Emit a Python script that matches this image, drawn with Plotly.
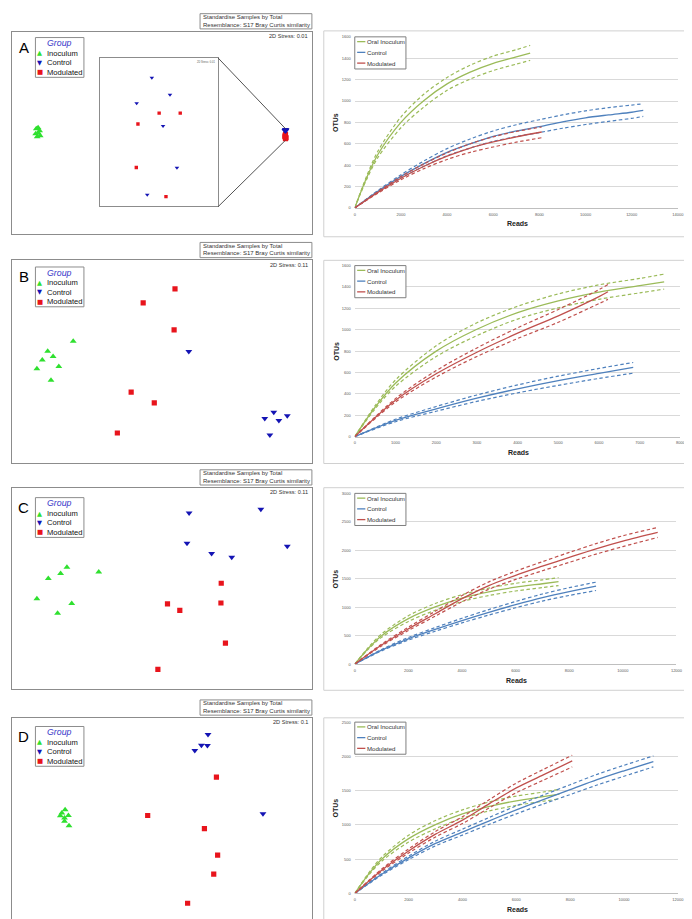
import plotly.graph_objects as go

W, H = 692, 919


def X(px):
    return px / W


def Y(py):
    return 1 - py / H


# ---------------------------------------------------------------- texts
panel_letters = ["A", "B", "C", "D"]
stress_labels = ["2D Stress: 0.01", "2D Stress: 0.11", "2D Stress: 0.11", "2D Stress: 0.1"]
inset_stress_label = "2D Stress: 0.01"
descriptor_lines = ["Standardise Samples by Total", "Resemblance: S17 Bray Curtis similarity"]
nmds_groups = ["Inoculum", "Control", "Modulated"]
nmds_legend_title = "Group"
rare_series = ["Oral Inoculum", "Control", "Modulated"]
x_title = "Reads"
y_title = "OTUs"

# ---------------------------------------------------------------- NMDS ordinations (relative units 0-100 in each frame)
a_inoc_x = [8.2, 8.8, 9.3, 8.0, 8.9, 9.5, 8.5]
a_inoc_y = [52.0, 52.5, 51.0, 49.5, 49.8, 48.5, 48.0]
a_ctrl_x = [91.2, 91.0, 91.4, 91.1, 91.3, 91.2]
a_ctrl_y = [51.6, 51.1, 51.3, 50.9, 51.0, 51.4]
a_mod_x = [91.2, 91.0, 91.4, 91.2, 91.1]
a_mod_y = [49.0, 48.0, 47.5, 47.0, 48.5]

ai_ctrl_x = [43.7, 59.1, 30.8, 53.2, 65.0, 39.8]
ai_ctrl_y = [86.7, 75.1, 69.4, 53.9, 25.6, 7.4]
ai_mod_x = [49.9, 67.8, 31.9, 30.5, 55.7]
ai_mod_y = [62.7, 62.7, 55.3, 25.8, 6.1]

b_inoc_x = [20.5, 12.0, 13.8, 10.2, 15.7, 8.4, 13.1]
b_inoc_y = [60.0, 55.1, 52.5, 50.7, 47.5, 46.4, 40.7]
b_ctrl_x = [59.0, 87.3, 84.3, 89.0, 91.8, 86.0]
b_ctrl_y = [54.9, 24.9, 21.8, 20.8, 23.1, 13.6]
b_mod_x = [54.4, 43.8, 54.1, 39.8, 47.5, 35.2]
b_mod_y = [85.9, 79.0, 65.6, 34.8, 29.5, 14.6]

c_inoc_x = [18.4, 16.3, 12.2, 29.0, 8.4, 20.0, 15.3]
c_inoc_y = [60.5, 57.4, 54.9, 58.2, 44.9, 42.6, 37.7]
c_ctrl_x = [59.1, 83.0, 58.4, 66.6, 73.3, 91.8]
c_ctrl_y = [87.5, 89.3, 72.4, 67.4, 65.5, 70.9]
c_mod_x = [69.8, 69.7, 51.9, 56.0, 71.2, 48.7]
c_mod_y = [52.6, 42.8, 42.4, 39.1, 22.9, 9.9]

d_inoc_x = [17.8, 16.7, 18.9, 16.2, 17.6, 17.6, 19.1]
d_inoc_y = [54.5, 52.9, 51.7, 51.6, 50.4, 48.9, 46.6]
d_ctrl_x = [65.4, 63.2, 65.2, 61.0, 83.7]
d_ctrl_y = [91.8, 86.4, 86.3, 83.9, 52.5]
d_mod_x = [68.2, 45.3, 64.2, 68.6, 67.3, 58.6]
d_mod_y = [70.7, 51.7, 45.2, 32.1, 22.7, 8.3]

# ---------------------------------------------------------------- rarefaction curves (reads vs OTUs, with CI)
inoc_reads = [0, 500, 1000, 2000, 3000, 4000, 5000, 6000, 7000, 7600]
inoc_otu = [0, 275, 500, 800, 1005, 1160, 1270, 1352, 1412, 1448]
inoc_hi = [0, 290, 530, 850, 1065, 1220, 1335, 1420, 1480, 1520]
inoc_lo = [0, 260, 470, 750, 945, 1100, 1205, 1285, 1345, 1380]

a_ctrl_reads = [0, 1000, 2000, 3000, 4000, 5000, 6000, 7000, 8000, 9000, 10000, 11000, 12000, 12500]
a_ctrl_otu = [0, 155, 295, 415, 520, 600, 670, 720, 760, 805, 843, 870, 895, 912]
a_ctrl_hi = [0, 162, 310, 440, 555, 645, 720, 778, 825, 870, 908, 938, 962, 974]
a_ctrl_lo = [0, 148, 280, 390, 488, 560, 622, 668, 705, 745, 780, 810, 838, 856]
a_mod_reads = [0, 1000, 2000, 3000, 4000, 5000, 6000, 7000, 8100]
a_mod_otu = [0, 145, 278, 390, 484, 560, 617, 665, 710]
a_mod_hi = [0, 152, 293, 412, 515, 600, 665, 715, 757]
a_mod_lo = [0, 138, 263, 368, 453, 520, 570, 615, 657]

b_ctrl_reads = [0, 1000, 2000, 3000, 4000, 5000, 6000, 6840]
b_ctrl_otu = [0, 152, 260, 360, 447, 524, 592, 648]
b_ctrl_hi = [0, 163, 282, 390, 484, 566, 638, 694]
b_ctrl_lo = [0, 140, 238, 330, 410, 480, 545, 594]
b_mod_reads = [0, 1000, 2000, 3000, 4000, 5000, 6000, 6220]
b_mod_otu = [0, 340, 588, 790, 968, 1130, 1310, 1355]
b_mod_hi = [0, 356, 618, 830, 1018, 1190, 1375, 1423]
b_mod_lo = [0, 324, 558, 750, 918, 1070, 1245, 1284]

c_ctrl_reads = [0, 1000, 2000, 3000, 4000, 5000, 6000, 7000, 8000, 9000]
c_ctrl_otu = [0, 245, 445, 610, 765, 910, 1045, 1170, 1275, 1369]
c_ctrl_hi = [0, 257, 468, 642, 805, 958, 1100, 1232, 1343, 1440]
c_ctrl_lo = [0, 233, 422, 578, 725, 862, 990, 1108, 1207, 1293]
c_mod_reads = [0, 1000, 2000, 3000, 4000, 5000, 6000, 7000, 8000, 9000, 10000, 11300]
c_mod_otu = [0, 335, 620, 885, 1150, 1380, 1560, 1720, 1875, 2025, 2160, 2313]
c_mod_hi = [0, 350, 650, 928, 1205, 1445, 1632, 1800, 1962, 2117, 2255, 2400]
c_mod_lo = [0, 320, 590, 842, 1095, 1315, 1488, 1640, 1788, 1933, 2065, 2226]

d_ctrl_reads = [0, 1000, 2000, 3000, 4000, 5000, 6000, 7000, 8000, 9000, 10000, 11090]
d_ctrl_otu = [0, 280, 520, 730, 895, 1060, 1220, 1370, 1515, 1660, 1790, 1925]
d_ctrl_hi = [0, 293, 545, 765, 938, 1110, 1278, 1435, 1587, 1738, 1870, 2007]
d_ctrl_lo = [0, 267, 495, 695, 852, 1010, 1162, 1305, 1443, 1582, 1710, 1847]
d_mod_reads = [0, 1000, 2000, 3000, 4000, 5000, 6000, 7000, 8076]
d_mod_otu = [0, 340, 620, 865, 1070, 1310, 1540, 1730, 1934]
d_mod_hi = [0, 356, 650, 905, 1120, 1370, 1610, 1808, 2017]
d_mod_lo = [0, 324, 590, 825, 1020, 1250, 1470, 1652, 1847]

# ---------------------------------------------------------------- styling
GREEN_PT, BLUE_PT, RED_PT = "#2fe02f", "#1414b4", "#e8141c"
GREEN_LN, BLUE_LN, RED_LN = "#9bbb59", "#4f81bd", "#c0504d"
FRAME = "#8c8c8c"
FONT = "Liberation Sans, Arial, sans-serif"

fig = go.Figure()
shapes = []
annos = []


def txt(x, y, s, size, color="#222", xanchor="left", yanchor="middle", **kw):
    annos.append(dict(x=X(x), y=Y(y), xref="paper", yref="paper", text=s, showarrow=False,
                      xanchor=xanchor, yanchor=yanchor, font=dict(size=size, color=color, family=FONT),
                      borderpad=0, **kw))


def rect(x0, y0, x1, y1, color=FRAME, fill=None, width=1):
    shapes.append(dict(type="rect", xref="paper", yref="paper", x0=X(x0), x1=X(x1), y0=Y(y1), y1=Y(y0),
                       line=dict(color=color, width=width), fillcolor=fill or "rgba(0,0,0,0)", layer="above"))


def seg(x0, y0, x1, y1, color, width=1, dash="solid"):
    shapes.append(dict(type="line", xref="paper", yref="paper", x0=X(x0), x1=X(x1), y0=Y(y0), y1=Y(y1),
                       line=dict(color=color, width=width, dash=dash), layer="above"))


# ---------------------------------------------------------------- NMDS panels
nmds_boxes = [(2.7, 20.7, 306, 224), (2.7, 250.7, 306, 454), (2.7, 479.3, 306, 682), (2.7, 710.7, 306, 914)]
legend_offsets = [6, 6.7, 10, 8.7]
nmds_data = [
    (a_inoc_x, a_inoc_y, a_ctrl_x, a_ctrl_y, a_mod_x, a_mod_y),
    (b_inoc_x, b_inoc_y, b_ctrl_x, b_ctrl_y, b_mod_x, b_mod_y),
    (c_inoc_x, c_inoc_y, c_ctrl_x, c_ctrl_y, c_mod_x, c_mod_y),
    (d_inoc_x, d_inoc_y, d_ctrl_x, d_ctrl_y, d_mod_x, d_mod_y),
]

layout_axes = {}
for i, (box, data) in enumerate(zip(nmds_boxes, nmds_data)):
    n = i + 1
    xa, ya = ("x" if n == 1 else f"x{n}"), ("y" if n == 1 else f"y{n}")
    x0, y0, x1, y1 = box
    ix, iy, cx, cy, mx, my = data
    fig.add_trace(go.Scatter(x=ix, y=iy, mode="markers", xaxis=xa, yaxis=ya,
                             marker=dict(symbol="triangle-up", size=6, color=GREEN_PT)))
    fig.add_trace(go.Scatter(x=mx, y=my, mode="markers", xaxis=xa, yaxis=ya,
                             marker=dict(symbol="square", size=5.2, color=RED_PT)))
    fig.add_trace(go.Scatter(x=cx, y=cy, mode="markers", xaxis=xa, yaxis=ya,
                             marker=dict(symbol="triangle-down", size=6, color=BLUE_PT)))
    ax_common = dict(range=[0, 100], showgrid=False, zeroline=False, showticklabels=False, ticks="",
                     showline=True, mirror=True, linecolor=FRAME, linewidth=1, fixedrange=True)
    layout_axes["xaxis" if n == 1 else f"xaxis{n}"] = dict(domain=[X(x0), X(x1)], anchor=ya, **ax_common)
    layout_axes["yaxis" if n == 1 else f"yaxis{n}"] = dict(domain=[Y(y1), Y(y0)], anchor=xa, **ax_common)

    # descriptor box
    rect(193, y0 - 18, 306, y0 - 2.7, fill="white")
    txt(194.5, y0 - 14.6, descriptor_lines[0], 6, color="#333")
    txt(194.5, y0 - 7.0, descriptor_lines[1], 6, color="#333")
    # stress
    txt(303.5, y0 + 4.4, stress_labels[i], 5.6, color="#333", xanchor="right")
    # legend
    lt = y0 + legend_offsets[i]
    rect(26.7, lt, 75.7, lt + 40, fill="white")
    txt(51.2, lt + 5.6, "<i>" + nmds_legend_title + "</i>", 8.8, color="#3535c8", xanchor="center")
    syms = [("▲", GREEN_PT), ("▼", BLUE_PT), ("■", RED_PT)]
    for k, (g, (sym, col)) in enumerate(zip(nmds_groups, syms)):
        yy = lt + 16 + k * 9.5
        annos.append(dict(x=X(31.2), y=Y(yy), xref="paper", yref="paper", text=sym, showarrow=False,
                          xanchor="center", yanchor="middle", borderpad=0,
                          font=dict(size=6.5, color=col, family="DejaVu Sans")))
        txt(37.5, yy, g, 7.6, color="#111")
    # panel letter
    txt(15, lt + 10, panel_letters[i], 15, color="#000", xanchor="center")

# ---------------------------------------------------------------- inset of panel A
ins = (92.3, 47.3, 211.3, 195.7)
fig.add_trace(go.Scatter(x=ai_mod_x, y=ai_mod_y, mode="markers", xaxis="x5", yaxis="y5",
                         marker=dict(symbol="square", size=3.4, color=RED_PT)))
fig.add_trace(go.Scatter(x=ai_ctrl_x, y=ai_ctrl_y, mode="markers", xaxis="x5", yaxis="y5",
                         marker=dict(symbol="triangle-down", size=4, color=BLUE_PT)))
inset_ax = dict(range=[0, 100], showgrid=False, zeroline=False, showticklabels=False, ticks="",
                showline=True, mirror=True, linecolor=FRAME, linewidth=1, fixedrange=True)
layout_axes["xaxis5"] = dict(domain=[X(ins[0]), X(ins[2])], anchor="y5", **inset_ax)
layout_axes["yaxis5"] = dict(domain=[Y(ins[3]), Y(ins[1])], anchor="x5", **inset_ax)
txt(209.5, 50.8, inset_stress_label, 2.6, color="#555", xanchor="right")
seg(211.3, 47.3, 279.3, 118.3, "#404040", 0.9)
seg(211.3, 196.7, 279.3, 130.0, "#404040", 0.9)

# ---------------------------------------------------------------- rarefaction panels
rare_outer = [(318, 20, 687, 227), (318, 250.7, 687, 455), (318, 479.3, 687, 683), (318, 710.7, 687, 915)]
rare_plot = [(349.3, 26, 675.7, 198), (349.3, 256, 678.3, 428), (349.3, 485, 674.3, 656.7),
             (349.3, 715, 675.7, 887.3)]
rare_xrange = [(14000, 2000), (8000, 1000), (12000, 2000), (12000, 2000)]
rare_yrange = [(1600, 200), (1600, 200), (3000, 500), (2500, 500)]
reads_title_y = [214, 444.3, 673.3, 903.3]
rare_data = [
    ((a_ctrl_reads, a_ctrl_otu, a_ctrl_hi, a_ctrl_lo), (a_mod_reads, a_mod_otu, a_mod_hi, a_mod_lo)),
    ((b_ctrl_reads, b_ctrl_otu, b_ctrl_hi, b_ctrl_lo), (b_mod_reads, b_mod_otu, b_mod_hi, b_mod_lo)),
    ((c_ctrl_reads, c_ctrl_otu, c_ctrl_hi, c_ctrl_lo), (c_mod_reads, c_mod_otu, c_mod_hi, c_mod_lo)),
    ((d_ctrl_reads, d_ctrl_otu, d_ctrl_hi, d_ctrl_lo), (d_mod_reads, d_mod_otu, d_mod_hi, d_mod_lo)),
]

for i in range(4):
    n = i + 6
    xa, ya = f"x{n}", f"y{n}"
    ox0, oy0, ox1, oy1 = rare_outer[i]
    px0, py0, px1, py1 = rare_plot[i]
    rect(ox0, oy0, ox1, oy1, color="#d0d0d0")
    series = [((inoc_reads, inoc_otu, inoc_hi, inoc_lo), GREEN_LN)] + \
             [(rare_data[i][0], BLUE_LN), (rare_data[i][1], RED_LN)]
    for (rx, ry, rhi, rlo), col in series:
        for yy, dash, w in ((rhi, "3.5px,2.5px", 1.2), (rlo, "3.5px,2.5px", 1.2), (ry, "solid", 1.3)):
            fig.add_trace(go.Scatter(x=rx, y=yy, mode="lines", xaxis=xa, yaxis=ya,
                                     line=dict(color=col, width=w, dash=dash, shape="spline", smoothing=0.9)))
    xmax, xd = rare_xrange[i]
    ymax, yd = rare_yrange[i]
    layout_axes[f"xaxis{n}"] = dict(domain=[X(px0), X(px1)], anchor=ya, range=[0, xmax], dtick=xd,
                                    tick0=0, tickformat="d", showgrid=False, zeroline=False, showline=True,
                                    linecolor="#bfbfbf", linewidth=1, ticks="", fixedrange=True,
                                    tickfont=dict(size=4, color="#595959", family=FONT), ticklabelstandoff=2)
    layout_axes[f"yaxis{n}"] = dict(domain=[Y(py1), Y(py0)], anchor=xa, range=[0, ymax], dtick=yd,
                                    tick0=0, tickformat="d", showgrid=True, gridcolor="#d9d9d9", gridwidth=1,
                                    zeroline=False, showline=False, ticks="", fixedrange=True,
                                    tickfont=dict(size=4, color="#595959", family=FONT), ticklabelstandoff=3)
    # axis titles
    annos.append(dict(x=X(330), y=Y((py0 + py1) / 2), xref="paper", yref="paper", text="<b>" + y_title + "</b>",
                      showarrow=False, textangle=-90, xanchor="center", yanchor="middle", borderpad=0,
                      font=dict(size=7, color="#222", family=FONT)))
    txt((px0 + px1) / 2 + 1, reads_title_y[i], "<b>" + x_title + "</b>", 7, color="#222", xanchor="center")
    # legend
    rect(px0, py0, px0 + 51.7, py0 + 32.3, color="#7f7f7f", fill="white")
    for k, (name, col) in enumerate(zip(rare_series, [GREEN_LN, BLUE_LN, RED_LN])):
        yy = py0 + 4.8 + k * 10.8
        seg(px0 + 2.4, yy, px0 + 10.7, yy, col, 1.3)
        txt(px0 + 11.8, yy, name, 6.1, color="#333")

fig.update_layout(
    width=W, height=H, margin=dict(l=0, r=0, t=0, b=0), showlegend=False,
    paper_bgcolor="white", plot_bgcolor="rgba(0,0,0,0)",
    shapes=shapes, annotations=annos, **layout_axes,
)

fig.write_html("out.html")
